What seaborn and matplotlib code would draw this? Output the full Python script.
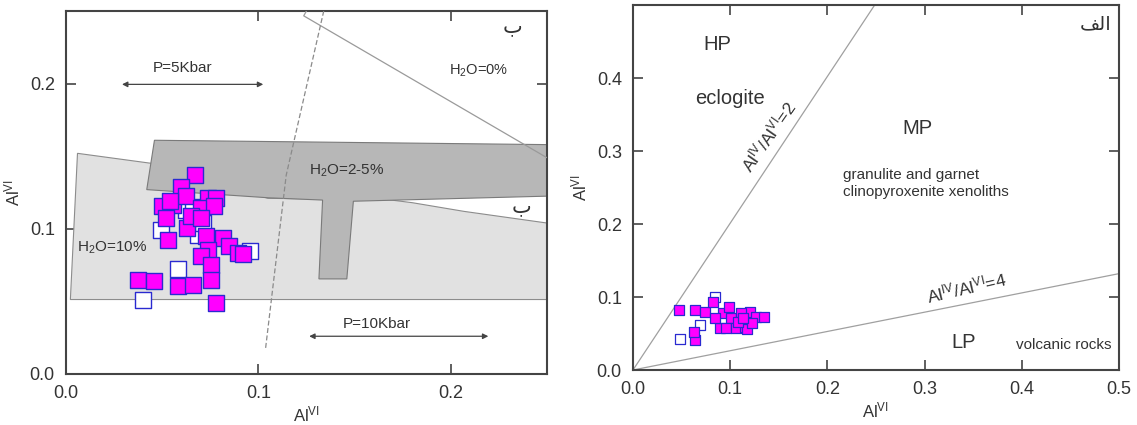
import numpy as np
import pandas as pd
import matplotlib
matplotlib.use('Agg')
import matplotlib.pyplot as plt
import seaborn as sns

# --- data: left panel (Al^IV vs Al^VI, pressure fields) ---
lx_fill = [0.0673, 0.0599, 0.0738, 0.078, 0.0556, 0.050, 0.052, 0.063, 0.053, 0.073,
           0.0816, 0.085, 0.0894, 0.0738, 0.0703, 0.0755, 0.0755, 0.078, 0.0373, 0.046,
           0.058, 0.066, 0.0625, 0.0703, 0.077, 0.054, 0.065, 0.070, 0.092]
ly_fill = [0.1372, 0.129, 0.121, 0.121, 0.1166, 0.1155, 0.1075, 0.1006, 0.0925, 0.095,
           0.0937, 0.088, 0.0834, 0.0857, 0.0811, 0.0754, 0.065, 0.049, 0.065, 0.064,
           0.0605, 0.0616, 0.1223, 0.114, 0.1155, 0.119, 0.109, 0.1075, 0.083]
lx_open = [0.040, 0.058, 0.0495, 0.0955, 0.0686, 0.0625, 0.066, 0.071]
ly_open = [0.0513, 0.072, 0.0994, 0.0845, 0.096, 0.113, 0.115, 0.104]

# field boundaries
h2o10_x = [0.006, 0.045, 0.105, 0.168, 0.180, 0.207, 0.25, 0.25, 0.0023]
h2o10_y = [0.152, 0.145, 0.121, 0.120, 0.118, 0.112, 0.104, 0.0513, 0.0513]
h2o25_x = [0.046, 0.25, 0.25, 0.1494, 0.146, 0.1315, 0.1334, 0.105, 0.042]
h2o25_y = [0.161, 0.158, 0.1225, 0.119, 0.0655, 0.0655, 0.1198, 0.1214, 0.127]
h2o0_x = [0.125, 0.1236, 0.25]
h2o0_y = [0.25, 0.2467, 0.149]
dash_x = [0.1038, 0.1145, 0.134]
dash_y = [0.018, 0.137, 0.25]

# --- data: right panel ---
rx_fill = [0.047, 0.064, 0.074, 0.0825, 0.093, 0.101, 0.0895, 0.096, 0.1065, 0.115,
           0.120, 0.127, 0.135, 0.111, 0.064, 0.0624, 0.084, 0.0985, 0.117, 0.122,
           0.108, 0.113]
ry_fill = [0.082, 0.082, 0.080, 0.0936, 0.0776, 0.0708, 0.057, 0.057, 0.057, 0.0594,
           0.080, 0.073, 0.073, 0.0776, 0.041, 0.0526, 0.0708, 0.086, 0.056, 0.065,
           0.066, 0.071]
rx_open = [0.084, 0.048, 0.069, 0.105, 0.112, 0.118]
ry_open = [0.100, 0.043, 0.0616, 0.066, 0.070, 0.075]
ratio_x = [0.0, 0.2487, 0.0, 0.5]
ratio_y = [0.0, 0.5, 0.0, 0.132]

sns.set_style('ticks')
plt.rcParams['font.family'] = ['Liberation Sans', 'DejaVu Sans']
plt.rcParams['mathtext.fontset'] = 'custom'
plt.rcParams['mathtext.rm'] = 'Liberation Sans'
plt.rcParams['mathtext.it'] = 'Liberation Sans'

TXT = '#333333'
EDGE = '#2a2ad0'
MAG = '#ff00ff'
ALVI = r'Al$^{\mathregular{VI}}$'

fig = plt.figure(figsize=(11.37, 4.25), dpi=100)
ax1 = fig.add_axes([0.058, 0.12, 0.423, 0.854])
ax2 = fig.add_axes([0.5567, 0.1294, 0.4274, 0.8588])

# left panel fields
ax1.fill(h2o10_x, h2o10_y, facecolor='#e1e1e1', edgecolor='#8c8c8c', lw=0.8, zorder=1)
ax1.fill(h2o25_x, h2o25_y, facecolor='#b7b7b7', edgecolor='#7a7a7a', lw=0.8, zorder=2)
ax1.plot(h2o0_x, h2o0_y, color='#9a9a9a', lw=0.9, zorder=3)
ax1.plot(dash_x, dash_y, color='#8a8a8a', lw=0.9, ls=(0, (4, 2)), zorder=3)

df_lo = pd.DataFrame({'x': lx_open, 'y': ly_open})
df_lf = pd.DataFrame({'x': lx_fill, 'y': ly_fill})
sns.scatterplot(data=df_lo, x='x', y='y', marker='s', s=120, color='white',
                edgecolor=EDGE, linewidth=1.0, ax=ax1, zorder=4)
sns.scatterplot(data=df_lf, x='x', y='y', marker='s', s=120, color=MAG,
                edgecolor=EDGE, linewidth=1.0, ax=ax1, zorder=5)

arrow = dict(arrowstyle='<|-|>', color='#444444', lw=0.9, mutation_scale=8)
ax1.annotate('', xy=(0.104, 0.1995), xytext=(0.0277, 0.1995), arrowprops=arrow)
ax1.annotate('', xy=(0.221, 0.026), xytext=(0.125, 0.026), arrowprops=arrow)
ax1.text(0.0608, 0.211, 'P=5Kbar', fontsize=11, color=TXT, ha='center', va='center')
ax1.text(0.1617, 0.0345, 'P=10Kbar', fontsize=11, color=TXT, ha='center', va='center')
ax1.text(0.2145, 0.2087, r'H$_{\mathregular{2}}$O=0%', fontsize=10.5, color=TXT, ha='center', va='center')
ax1.text(0.1457, 0.1398, r'H$_{\mathregular{2}}$O=2-5%', fontsize=11, color=TXT, ha='center', va='center')
ax1.text(0.024, 0.0869, r'H$_{\mathregular{2}}$O=10%', fontsize=11, color=TXT, ha='center', va='center')
ax1.text(0.232, 0.239, 'ب', fontsize=15, color=TXT, ha='center', va='center')
ax1.text(0.237, 0.115, 'ب', fontsize=15, color=TXT, ha='center', va='center')

ax1.set_xlim(0, 0.25)
ax1.set_ylim(0, 0.25)
ax1.set_xticks([0.0, 0.1, 0.2])
ax1.set_yticks([0.0, 0.1, 0.2])
ax1.set_xticklabels(['0.0', '0.1', '0.2'])
ax1.set_yticklabels(['0.0', '0.1', '0.2'])

# right panel
ax2.plot(ratio_x[0:2], ratio_y[0:2], color='#a0a0a0', lw=0.9)
ax2.plot(ratio_x[2:4], ratio_y[2:4], color='#a0a0a0', lw=0.9)
df_ro = pd.DataFrame({'x': rx_open, 'y': ry_open})
df_rf = pd.DataFrame({'x': rx_fill, 'y': ry_fill})
sns.scatterplot(data=df_ro, x='x', y='y', marker='s', s=55, color='white',
                edgecolor=EDGE, linewidth=0.9, ax=ax2, zorder=4)
sns.scatterplot(data=df_rf, x='x', y='y', marker='s', s=55, color=MAG,
                edgecolor=EDGE, linewidth=0.9, ax=ax2, zorder=5)

ax2.text(0.087, 0.446, 'HP', fontsize=14.5, color=TXT, ha='center', va='center')
ax2.text(0.100, 0.372, 'eclogite', fontsize=14.5, color=TXT, ha='center', va='center')
ax2.text(0.293, 0.331, 'MP', fontsize=14.5, color=TXT, ha='center', va='center')
ax2.text(0.340, 0.038, 'LP', fontsize=14.5, color=TXT, ha='center', va='center')
ax2.text(0.216, 0.256, 'granulite and garnet\nclinopyroxenite xenoliths', fontsize=11,
         color=TXT, ha='left', va='center', linespacing=1.25)
ax2.text(0.492, 0.034, 'volcanic rocks', fontsize=11, color=TXT, ha='right', va='center')
ax2.text(0.139, 0.320, r'Al$^{\mathregular{IV}}$/Al$^{\mathregular{VI}}$=2', fontsize=12.5,
         color=TXT, ha='center', va='center', rotation=55)
ax2.text(0.343, 0.1136, r'Al$^{\mathregular{IV}}$/Al$^{\mathregular{VI}}$=4', fontsize=12.5,
         color=TXT, ha='center', va='center', rotation=13)
ax2.text(0.492, 0.4726, '\ufed2\ufedf\ufe8d', fontsize=14, color=TXT, ha='right', va='center')

ax2.set_xlim(0, 0.5)
ax2.set_ylim(0, 0.5)
ax2.set_xticks(np.arange(0, 0.51, 0.1))
ax2.set_yticks(np.arange(0, 0.41, 0.1))
ax2.set_xticklabels(['0.0', '0.1', '0.2', '0.3', '0.4', '0.5'])
ax2.set_yticklabels(['0.0', '0.1', '0.2', '0.3', '0.4'])

for ax in (ax1, ax2):
    ax.tick_params(direction='in', length=7, width=1.2, colors='#444444',
                   labelcolor=TXT, labelsize=13, pad=8,
                   top=True, right=True)
    for sp in ax.spines.values():
        sp.set_visible(True)
        sp.set_color('#444444')
        sp.set_linewidth(1.5)
    ax.set_xlabel(ALVI, fontsize=12, color=TXT, labelpad=2)
    ax.set_ylabel(ALVI, fontsize=12, color=TXT, labelpad=5)

fig.savefig('out.png', dpi=100)
